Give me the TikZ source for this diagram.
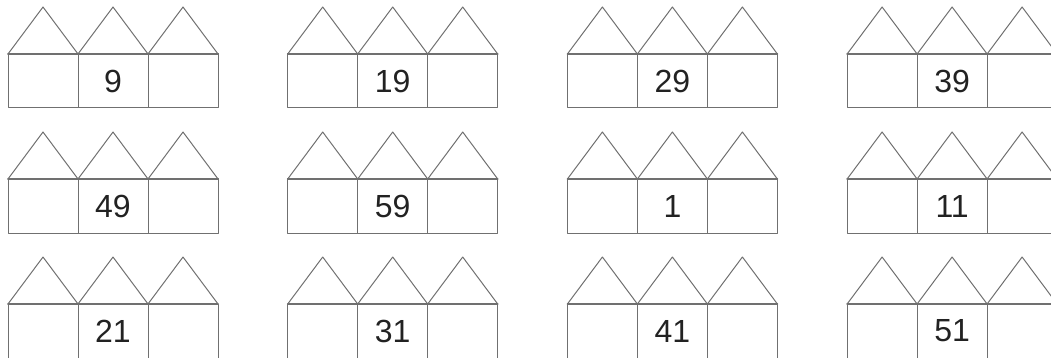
\documentclass[tikz,border=0pt]{standalone}
\usepackage{fontspec}
\setmainfont{Liberation Sans}
\usetikzlibrary{positioning}
\definecolor{ink}{HTML}{222222}
\definecolor{wall}{HTML}{707070}

\begin{document}
\begin{tikzpicture}[x=1pt,y=-1pt,line cap=round,line join=round,
    room/.style={draw=wall,line width=1pt,minimum width=70pt,minimum height=54pt,
      inner sep=0pt,outer sep=0pt,font=\fontsize{32}{32}\selectfont,text=ink},
    roof/.style={draw=wall,line width=1pt}]
  \useasboundingbox (0,0) rectangle (1051,358);
  \foreach \row/\lst in {0/{9,19,29,39},1/{49,59,1,11},2/{21,31,41,51}}{
    \foreach \num [count=\col from 0] in \lst {
      \coordinate (g-\row-\col) at (8+279.7*\col, 54+125*\row);
      \node[room,anchor=north west] (l-\row-\col) at (g-\row-\col) {};
      \node[room,right=0pt of l-\row-\col] (m-\row-\col) {\num};
      \node[room,right=0pt of m-\row-\col] (r-\row-\col) {};
      % three roofs on top, base line a little heavier
      \foreach \b in {l,m,r}
        \draw[roof] (\b-\row-\col.north west) -- ([yshift=47pt]\b-\row-\col.north) -- (\b-\row-\col.north east);
      \draw[roof,line width=1.6pt] (l-\row-\col.north west) -- (r-\row-\col.north east);
    }
  }
\end{tikzpicture}
\end{document}
